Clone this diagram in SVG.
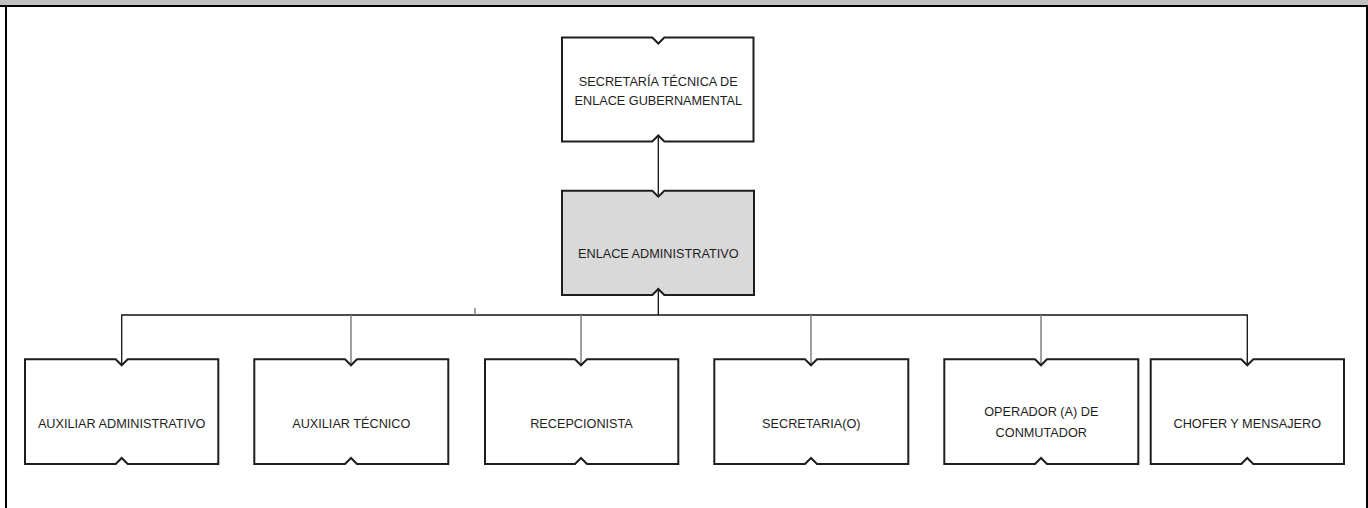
<svg xmlns="http://www.w3.org/2000/svg" width="1368" height="508" viewBox="0 0 1368 508">
<style>
.node{fill:#ffffff;stroke:#1e1e1e;stroke-width:2}
.gray{fill:#d9d9d9}
.lbl{font-family:"Liberation Sans",Arial,sans-serif;font-size:12.7px;fill:#1e1e1e;text-anchor:middle}
.conn{fill:none;stroke:#111;stroke-width:1.3}
.drop{fill:none;stroke:#808080;stroke-width:1.5}
</style>
<rect x="0" y="0" width="1368" height="508" fill="#ffffff"/>
<rect x="0" y="0" width="1368" height="5" fill="#c0c0c0"/>
<g id="frame" fill="none" stroke="#000">
<line x1="0" y1="6" x2="1368" y2="6" stroke-width="2.2"/>
<line x1="6" y1="5" x2="6" y2="508" stroke-width="2"/>
<line x1="1367" y1="5" x2="1367" y2="508" stroke-width="2"/>
</g>
<g id="connectors">
<line class="conn" x1="658.3" y1="136" x2="658.3" y2="196.5"/>
<line class="conn" x1="658.3" y1="289" x2="658.3" y2="315"/>
<polyline class="conn" points="121.7,365 121.7,315 1247.3,315 1247.3,365"/>
<line class="drop" x1="351" y1="315" x2="351" y2="365"/>
<line class="drop" x1="581" y1="315" x2="581" y2="365"/>
<line class="drop" x1="811" y1="315" x2="811" y2="365"/>
<line class="drop" x1="1041" y1="315" x2="1041" y2="365"/>
<line class="drop" x1="475" y1="308" x2="475" y2="315"/>
</g>
<g id="n-secretaria-tecnica">
<path class="node" d="M562,37.5 H652.3 L658.3,43.5 L664.3,37.5 H753.5 V141.5 H664.3 L658.3,135.5 L652.3,141.5 H562 Z"/>
<text class="lbl" x="658.3" y="86">SECRETARÍA TÉCNICA DE</text>
<text class="lbl" x="658.3" y="104.5">ENLACE GUBERNAMENTAL</text>
</g>
<g id="n-enlace-administrativo">
<path class="node gray" d="M562,190.7 H652.3 L658.3,196.7 L664.3,190.7 H754 V295 H664.3 L658.3,289 L652.3,295 H562 Z"/>
<text class="lbl" x="658.3" y="257.8">ENLACE ADMINISTRATIVO</text>
</g>
<g id="n-auxiliar-administrativo">
<path class="node" d="M25,359.3 H115.7 L121.7,365.3 L127.7,359.3 H218.3 V464 H127.7 L121.7,458 L115.7,464 H25 Z"/>
<text class="lbl" x="121.7" y="427.8">AUXILIAR ADMINISTRATIVO</text>
</g>
<g id="n-auxiliar-tecnico">
<path class="node" d="M254.3,359.3 H345 L351,365.3 L357,359.3 H448.3 V464 H357 L351,458 L345,464 H254.3 Z"/>
<text class="lbl" x="351.3" y="427.8">AUXILIAR TÉCNICO</text>
</g>
<g id="n-recepcionista">
<path class="node" d="M485,359.3 H575 L581,365.3 L587,359.3 H678.3 V464 H587 L581,458 L575,464 H485 Z"/>
<text class="lbl" x="581.5" y="427.8">RECEPCIONISTA</text>
</g>
<g id="n-secretaria">
<path class="node" d="M714.3,359.3 H805 L811,365.3 L817,359.3 H908.3 V464 H817 L811,458 L805,464 H714.3 Z"/>
<text class="lbl" x="811.3" y="427.8">SECRETARIA(O)</text>
</g>
<g id="n-operador">
<path class="node" d="M944.3,359.3 H1035 L1041,365.3 L1047,359.3 H1138.3 V464 H1047 L1041,458 L1035,464 H944.3 Z"/>
<text class="lbl" x="1041.3" y="416.2">OPERADOR (A) DE</text>
<text class="lbl" x="1041.3" y="437.2">CONMUTADOR</text>
</g>
<g id="n-chofer">
<path class="node" d="M1150.7,359.3 H1241.3 L1247.3,365.3 L1253.3,359.3 H1344 V464 H1253.3 L1247.3,458 L1241.3,464 H1150.7 Z"/>
<text class="lbl" x="1247.3" y="427.8">CHOFER Y MENSAJERO</text>
</g>
</svg>
